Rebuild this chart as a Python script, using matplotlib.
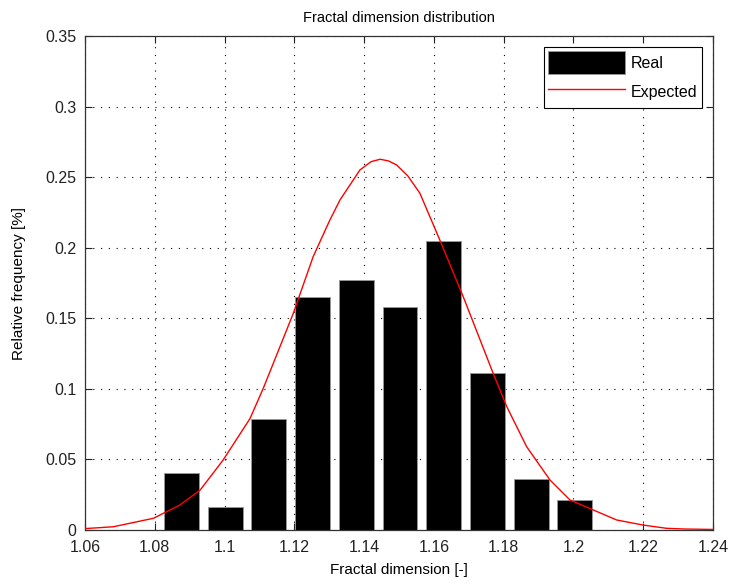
import matplotlib.pyplot as plt

# histogram of fractal dimension (bar centres and relative frequencies)
bar_centres = [1.0877, 1.1002, 1.1127, 1.1252, 1.1378, 1.1503, 1.1628, 1.1753, 1.1879, 1.2004]
bar_heights = [0.0404, 0.0165, 0.079, 0.165, 0.177, 0.158, 0.205, 0.111, 0.036, 0.0213]

# expected curve
exp_x = [1.060, 1.0681, 1.0796, 1.0872, 1.093, 1.0996, 1.1073, 1.1111, 1.1159, 1.1197,
         1.1254, 1.1302, 1.1331, 1.1388, 1.1420, 1.1446, 1.1470, 1.1493, 1.1525, 1.156,
         1.1617, 1.1684, 1.177, 1.1809, 1.1866, 1.1933, 1.199, 1.2057, 1.2124, 1.220,
         1.2267, 1.232, 1.240]
exp_y = [0.0010, 0.0023, 0.0083, 0.0177, 0.0283, 0.0496, 0.079, 0.1004, 0.130, 0.1535,
         0.1937, 0.2197, 0.2339, 0.2551, 0.2610, 0.2627, 0.2615, 0.2587, 0.2510, 0.2386,
         0.2055, 0.1654, 0.111, 0.0874, 0.059, 0.0354, 0.0213, 0.0142, 0.0071, 0.0035,
         0.0012, 0.0007, 0.0004]

xticks = [1.06, 1.08, 1.1, 1.12, 1.14, 1.16, 1.18, 1.2, 1.22, 1.24]
xticklabels = ['1.06', '1.08', '1.1', '1.12', '1.14', '1.16', '1.18', '1.2', '1.22', '1.24']
yticks = [0, 0.05, 0.1, 0.15, 0.2, 0.25, 0.3, 0.35]
yticklabels = ['0', '0.05', '0.1', '0.15', '0.2', '0.25', '0.3', '0.35']

plt.rcParams['font.family'] = ['Liberation Sans', 'DejaVu Sans']

fig = plt.figure(figsize=(7.31, 5.85), dpi=100)
ax = fig.add_axes([0.1163, 0.094, 0.859, 0.8444])

bars = ax.bar(bar_centres, bar_heights, width=0.01, color='black', edgecolor='#999999',
              linewidth=0.6, label='Real', zorder=2)
line, = ax.plot(exp_x, exp_y, color='red', linewidth=1.0, label='Expected', zorder=3)

ax.set_xlim(1.06, 1.24)
ax.set_ylim(0, 0.35)
ax.set_xticks(xticks)
ax.set_xticklabels(xticklabels)
ax.set_yticks(yticks)
ax.set_yticklabels(yticklabels)
ax.tick_params(direction='in', length=5, labelsize=11.5, colors='#222222', width=0.8,
               top=True, right=True)
ax.tick_params(axis='x', pad=7)
ax.tick_params(axis='y', pad=6)
for s in ax.spines.values():
    s.set_color('#333333')
    s.set_linewidth(0.9)

ax.grid(True, color='black', linestyle=(0, (1, 6)), linewidth=0.8, zorder=1)
ax.set_axisbelow(True)

ax.set_title('Fractal dimension distribution', fontsize=10.5, pad=10)
ax.set_xlabel('Fractal dimension [-]', fontsize=11, labelpad=6)
ax.set_ylabel('Relative frequency [%]', fontsize=11, labelpad=14)

leg = ax.legend([bars, line], ['Real', 'Expected'], loc='upper right', fontsize=11.5,
                fancybox=False, framealpha=1, edgecolor='black', handlelength=4.8,
                handleheight=1.8, borderaxespad=0.7, labelspacing=0.45,
                handletextpad=0.4, borderpad=0.25)
leg.get_frame().set_linewidth(0.8)

fig.savefig('out.png', dpi=100, facecolor='white')
